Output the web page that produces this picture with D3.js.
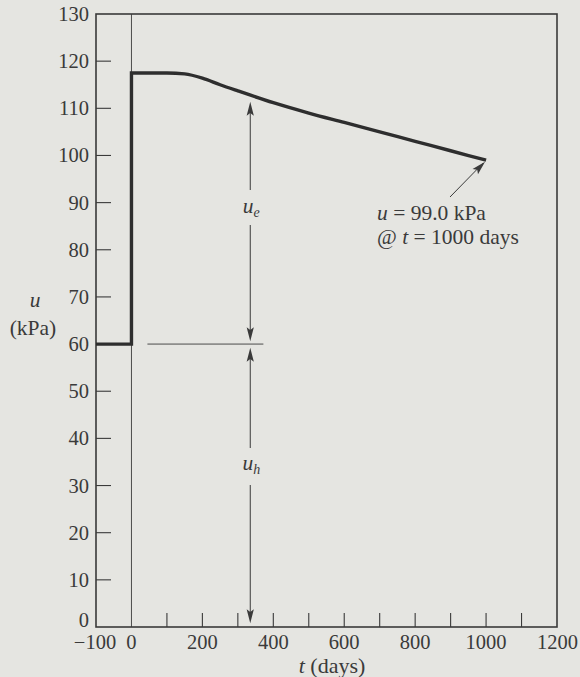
<!DOCTYPE html>
<html><head><meta charset="utf-8">
<script src="https://cdn.jsdelivr.net/npm/d3@7"></script>
<style>
html,body{margin:0;padding:0;background:#e5e5e1;}
svg{display:block;}
text{font-family:"Liberation Serif","Times New Roman",serif;fill:#3a3a3a;}
</style></head>
<body>
<svg id="c" width="580" height="677"></svg>
<script>
// ---- data ----
const xTickValues = [-100, 0, 200, 400, 600, 800, 1000, 1200];
const xMinorTicks = [100, 200, 300, 400, 500, 600, 700, 800, 900, 1000, 1100];
const yTickValues = [0, 10, 20, 30, 40, 50, 60, 70, 80, 90, 100, 110, 120, 130];
const yInnerTicks = [10, 20, 30, 40, 50, 60, 70, 80, 90, 100, 110, 120];
const stepT = [-100, 0, 0];
const stepU = [60, 60, 117.5];
const decayT = [0, 100, 150, 200, 250, 300, 400, 500, 600, 700, 800, 900, 1000];
const decayU = [117.5, 117.5, 117.3, 116.4, 115.0, 113.7, 111.2, 109.0, 107.0, 105.0, 103.0, 101.0, 99.0];
const hydrostatic = 60;     // u_h level
const arrowT = 335;         // position of dimension arrows
const finalT = 1000, finalU = 99.0;

// ---- scales ----
const svg = d3.select("#c");
const x = d3.scaleLinear().domain([-100, 1200]).range([96, 557]);
const y = d3.scaleLinear().domain([0, 130]).range([627, 14]);
const ink = "#3a3a3a";
const fs = 20.5, fsT = 21.5;

// frame
svg.append("rect").attr("x", x(-100)).attr("y", y(130))
  .attr("width", x(1200) - x(-100)).attr("height", y(0) - y(130))
  .attr("fill", "none").attr("stroke", ink).attr("stroke-width", 1.6);

// y inner ticks
svg.selectAll(".yt").data(yInnerTicks).enter().append("line")
  .attr("x1", x(-100)).attr("x2", x(-100) + 15)
  .attr("y1", d => y(d)).attr("y2", d => y(d))
  .attr("stroke", ink).attr("stroke-width", 1.1);
// x inner ticks
svg.selectAll(".xt").data(xMinorTicks).enter().append("line")
  .attr("x1", d => x(d)).attr("x2", d => x(d))
  .attr("y1", y(0)).attr("y2", y(0) - 14)
  .attr("stroke", ink).attr("stroke-width", 1.1);

// y tick labels
svg.selectAll(".yl").data(yTickValues).enter().append("text")
  .attr("x", 89).attr("y", d => d === 0 ? y(d) : y(d) + 7)
  .attr("text-anchor", "end").attr("font-size", fs)
  .text(d => d);
// x tick labels
svg.selectAll(".xl").data(xTickValues).enter().append("text")
  .attr("x", d => d === 1200 ? 578 : x(d) + (d === -100 ? -1 : 0)).attr("y", 649)
  .attr("text-anchor", d => d === 1200 ? "end" : "middle").attr("font-size", fs)
  .text(d => d < 0 ? "\u2212" + Math.abs(d) : d);

// axis titles
svg.append("text").attr("x", 35).attr("y", 307).attr("text-anchor", "middle")
  .attr("font-size", fsT).attr("font-style", "italic").text("u");
svg.append("text").attr("x", 33).attr("y", 335).attr("text-anchor", "middle")
  .attr("font-size", fsT).text("(kPa)");
const tt = svg.append("text").attr("x", 332).attr("y", 673).attr("text-anchor", "middle")
  .attr("font-size", fsT + 0.5);
tt.append("tspan").attr("font-style", "italic").text("t");
tt.append("tspan").text(" (days)");

// vertical thin line at t = 0
svg.append("line").attr("x1", x(0)).attr("x2", x(0)).attr("y1", y(130)).attr("y2", y(0))
  .attr("stroke", ink).attr("stroke-width", 0.9);
// horizontal thin line at u = 60
svg.append("line").attr("x1", x(45)).attr("x2", x(372)).attr("y1", y(hydrostatic)).attr("y2", y(hydrostatic))
  .attr("stroke", ink).attr("stroke-width", 0.9);

// main curve
const lin = d3.line().x(d => x(d[0])).y(d => y(d[1]));
const smooth = d3.line().x(d => x(d[0])).y(d => y(d[1])).curve(d3.curveMonotoneX);
const stepD = lin(stepT.map((t, i) => [t, stepU[i]]));
const decayD = smooth(decayT.map((t, i) => [t, decayU[i]])).replace(/^M/, "L");
svg.append("path").attr("d", stepD + decayD).attr("fill", "none")
  .attr("stroke", "#2e2e2e").attr("stroke-width", 3.4).attr("stroke-linejoin", "miter");

// arrowhead helper (tip at (tx,ty), pointing in direction angle)
function arrowHead(tx, ty, ang, len = 14, half = 3.6) {
  const ca = Math.cos(ang), sa = Math.sin(ang);
  const bx = tx - len * ca, by = ty - len * sa;
  const p = [[tx, ty], [bx - half * sa, by + half * ca], [tx - len * 0.8 * ca, ty - len * 0.8 * sa], [bx + half * sa, by - half * ca]];
  svg.append("path").attr("d", "M" + p.map(q => q.join(",")).join("L") + "Z").attr("fill", ink);
}

// u_e dimension arrow
const ax = x(arrowT);
const ueTop = y(111.4), ueBot = y(60.6);
svg.append("line").attr("x1", ax).attr("x2", ax).attr("y1", ueTop + 5).attr("y2", 190).attr("stroke", ink).attr("stroke-width", 1);
svg.append("line").attr("x1", ax).attr("x2", ax).attr("y1", 225).attr("y2", ueBot - 5).attr("stroke", ink).attr("stroke-width", 1);
arrowHead(ax, ueTop, -Math.PI / 2);
arrowHead(ax, ueBot, Math.PI / 2);
// u_h dimension arrow
const uhTop = y(59.2), uhBot = y(0.8);
svg.append("line").attr("x1", ax).attr("x2", ax).attr("y1", uhTop + 5).attr("y2", 448).attr("stroke", ink).attr("stroke-width", 1);
svg.append("line").attr("x1", ax).attr("x2", ax).attr("y1", 485).attr("y2", uhBot - 5).attr("stroke", ink).attr("stroke-width", 1);
arrowHead(ax, uhTop, -Math.PI / 2);
arrowHead(ax, uhBot, Math.PI / 2);

// labels u_e, u_h
function subLabel(cx, cy, sub) {
  const t = svg.append("text").attr("x", cx).attr("y", cy).attr("text-anchor", "middle")
    .attr("font-size", fsT).attr("font-style", "italic");
  t.append("tspan").text("u");
  t.append("tspan").attr("dy", 4).attr("font-size", 14).text(sub);
}
subLabel(ax + 1, 213, "e");
subLabel(ax + 1, 470, "h");

// annotation
const fx = x(finalT), fy = y(finalU);
const sx = 450, sy = 197;
svg.append("line").attr("x1", sx).attr("y1", sy).attr("x2", fx - 3).attr("y2", fy + 3)
  .attr("stroke", ink).attr("stroke-width", 1);
arrowHead(fx - 1, fy + 1.5, Math.atan2(fy - sy, fx - sx), 14, 3.8);
const a1 = svg.append("text").attr("x", 377).attr("y", 220).attr("font-size", fsT);
a1.append("tspan").attr("font-style", "italic").text("u");
a1.append("tspan").text(" = " + finalU.toFixed(1) + " kPa");
const a2 = svg.append("text").attr("x", 377).attr("y", 244).attr("font-size", fsT);
a2.append("tspan").text("@ ");
a2.append("tspan").attr("font-style", "italic").text("t");
a2.append("tspan").text(" = " + finalT + " days");
</script>
</body></html>
